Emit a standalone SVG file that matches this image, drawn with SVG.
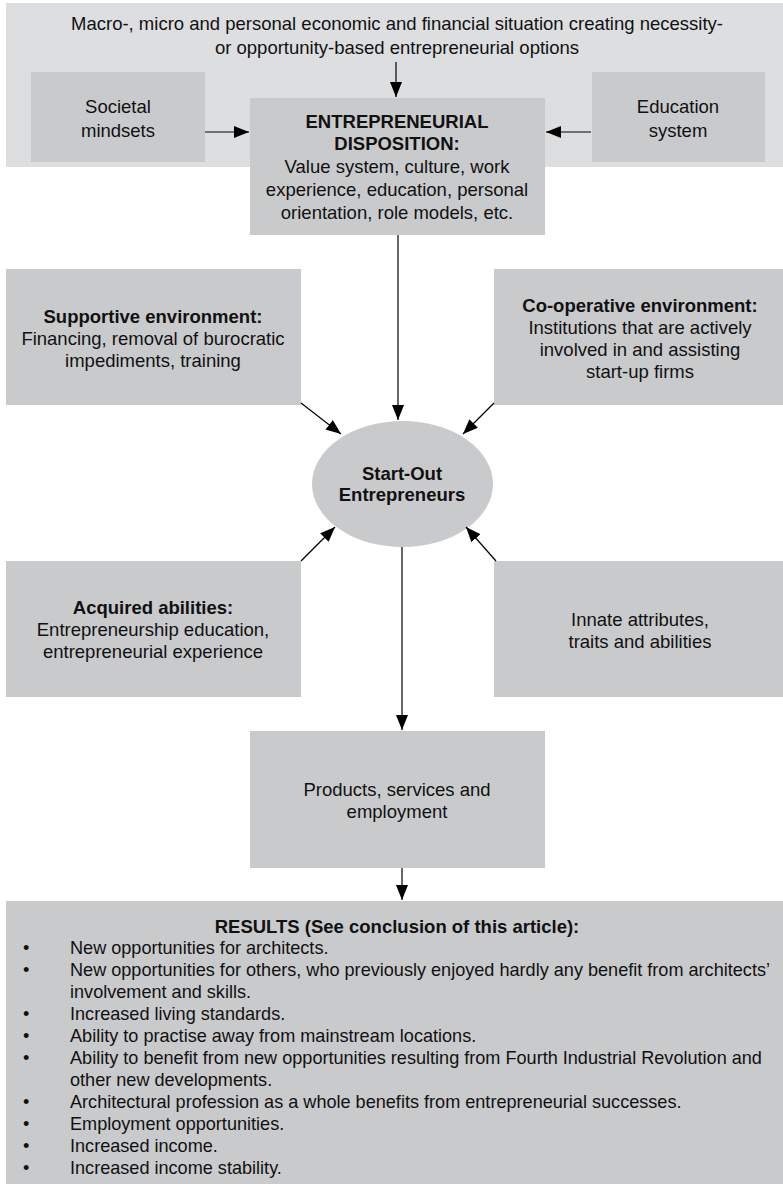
<svg xmlns="http://www.w3.org/2000/svg" width="783" height="1192" viewBox="0 0 783 1192">
<defs>
<style>
text{font-family:"Liberation Sans",Arial,sans-serif;font-size:18.5px;fill:#111;}
.c{text-anchor:middle;}
.b{font-weight:bold;}
.li text{font-size:18.1px;}
.panel{fill:#dddee0;}
.box{fill:#c9cacc;}
.ln{stroke:#000;stroke-width:1.2;fill:none;marker-end:url(#ah);}
</style>
<marker id="ah" markerUnits="userSpaceOnUse" markerWidth="15" markerHeight="12" refX="15" refY="6" orient="auto">
<path d="M0,0 L15,6 L0,12 z" fill="#000"/>
</marker>
</defs>
<rect width="783" height="1192" fill="#fff"/>
<g id="context">
<rect class="panel" x="6" y="3" width="777" height="164"/>
<text class="c" x="397" y="30">Macro-, micro and personal economic and financial situation creating necessity-</text>
<text class="c" x="397" y="54">or opportunity-based entrepreneurial options</text>
</g>
<g id="societal">
<rect class="box" x="31" y="72" width="174" height="90"/>
<text class="c" x="118" y="113">Societal</text>
<text class="c" x="118" y="137">mindsets</text>
</g>
<g id="education">
<rect class="box" x="592" y="72" width="173" height="90"/>
<text class="c" x="678" y="113">Education</text>
<text class="c" x="678" y="137">system</text>
</g>
<g id="disposition">
<rect class="box" x="250" y="98" width="295" height="137"/>
<text class="c b" x="397" y="128">ENTREPRENEURIAL</text>
<text class="c b" x="397" y="150">DISPOSITION:</text>
<text class="c" x="397" y="173">Value system, culture, work</text>
<text class="c" x="397" y="196">experience, education, personal</text>
<text class="c" x="397" y="219">orientation, role models, etc.</text>
</g>
<g id="supportive">
<rect class="box" x="6" y="269" width="295" height="136"/>
<text class="c b" x="153" y="323">Supportive environment:</text>
<text class="c" x="153" y="345">Financing, removal of burocratic</text>
<text class="c" x="153" y="367">impediments, training</text>
</g>
<g id="cooperative">
<rect class="box" x="494" y="269" width="289" height="136"/>
<text class="c b" x="640" y="312">Co-operative environment:</text>
<text class="c" x="640" y="334">Institutions that are actively</text>
<text class="c" x="640" y="356">involved in and assisting</text>
<text class="c" x="640" y="378">start-up firms</text>
</g>
<g id="startout">
<ellipse cx="402.5" cy="484" rx="90.5" ry="63" fill="#c9cacc"/>
<text class="c b" x="402" y="480">Start-Out</text>
<text class="c b" x="402" y="501">Entrepreneurs</text>
</g>
<g id="acquired">
<rect class="box" x="6" y="561" width="295" height="136"/>
<text class="c b" x="153" y="614">Acquired abilities:</text>
<text class="c" x="153" y="636">Entrepreneurship education,</text>
<text class="c" x="153" y="658">entrepreneurial experience</text>
</g>
<g id="innate">
<rect class="box" x="494" y="561" width="289" height="136"/>
<text class="c" x="640" y="626">Innate attributes,</text>
<text class="c" x="640" y="648">traits and abilities</text>
</g>
<g id="products">
<rect class="box" x="250" y="731" width="295" height="137"/>
<text class="c" x="397" y="796">Products, services and</text>
<text class="c" x="397" y="818">employment</text>
</g>
<g id="results">
<rect class="box" x="6" y="901" width="777" height="283"/>
<text class="c b" x="397" y="933">RESULTS (See conclusion of this article):</text>
<g class="li">
<text x="23" y="954">•</text><text x="70" y="954">New opportunities for architects.</text>
<text x="23" y="976">•</text><text x="70" y="976">New opportunities for others, who previously enjoyed hardly any benefit from architects’</text>
<text x="70" y="998">involvement and skills.</text>
<text x="23" y="1020">•</text><text x="70" y="1020">Increased living standards.</text>
<text x="23" y="1042">•</text><text x="70" y="1042">Ability to practise away from mainstream locations.</text>
<text x="23" y="1064">•</text><text x="70" y="1064">Ability to benefit from new opportunities resulting from Fourth Industrial Revolution and</text>
<text x="70" y="1086">other new developments.</text>
<text x="23" y="1108">•</text><text x="70" y="1108">Architectural profession as a whole benefits from entrepreneurial successes.</text>
<text x="23" y="1130">•</text><text x="70" y="1130">Employment opportunities.</text>
<text x="23" y="1152">•</text><text x="70" y="1152">Increased income.</text>
<text x="23" y="1174">•</text><text x="70" y="1174">Increased income stability.</text>
</g>
</g>
<g id="connectors">
<line class="ln" x1="396" y1="62" x2="396" y2="97"/>
<line class="ln" x1="205" y1="132" x2="249" y2="132"/>
<line class="ln" x1="591" y1="132" x2="546" y2="132"/>
<line class="ln" x1="398" y1="235" x2="398" y2="420"/>
<line class="ln" x1="301" y1="403" x2="341" y2="434"/>
<line class="ln" x1="494" y1="403" x2="463" y2="434"/>
<line class="ln" x1="301" y1="561" x2="335" y2="527"/>
<line class="ln" x1="496" y1="561" x2="466" y2="527"/>
<line class="ln" x1="402" y1="547" x2="402" y2="730"/>
<line class="ln" x1="402" y1="868" x2="402" y2="900"/>
</g>
</svg>
